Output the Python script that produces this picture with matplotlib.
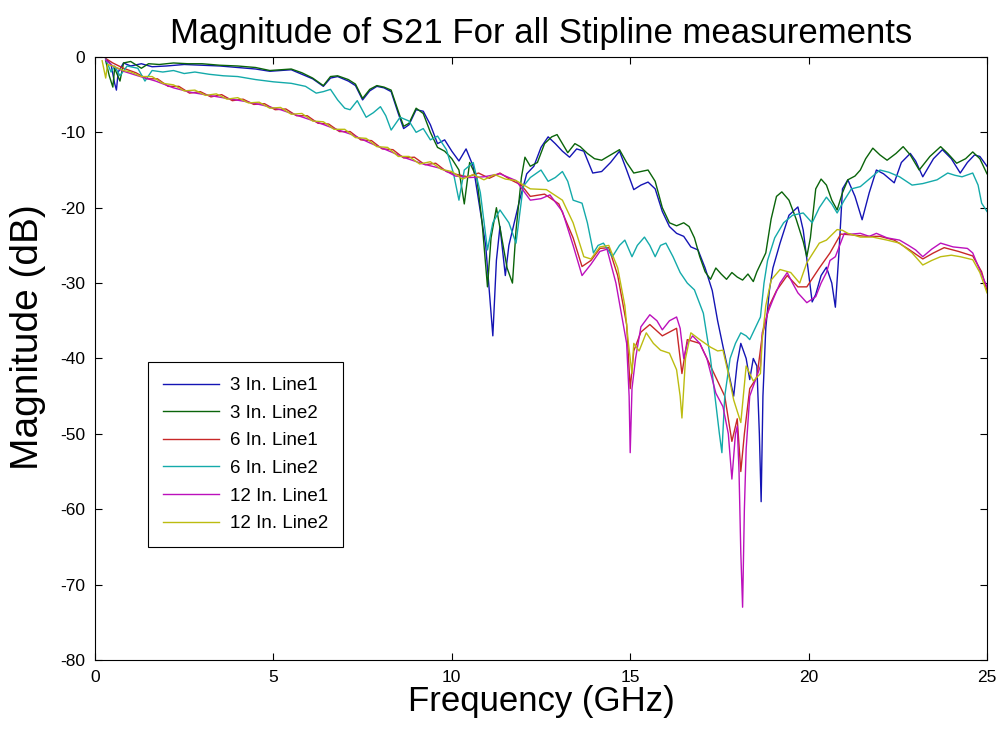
import matplotlib
matplotlib.use("Agg")
import matplotlib.pyplot as plt

plt.rcParams['font.family'] = ['Liberation Sans', 'DejaVu Sans']
plt.rcParams['axes.unicode_minus'] = False

# S21 magnitude traces, (frequency GHz, dB) pairs per measurement
freq_3in_l1 = [0.3, 0.45, 0.55, 0.6, 0.65, 0.8, 1.0, 1.3, 1.6, 2.0, 2.5, 3.0, 3.5, 4.0, 4.5, 4.9,
               5.2, 5.5, 5.8, 6.1, 6.4, 6.6, 6.8, 7.1, 7.3, 7.5, 7.7, 7.9, 8.1, 8.3, 8.5, 8.65,
               8.8, 9.0, 9.2, 9.4, 9.6, 9.8, 10.0, 10.2, 10.4, 10.6, 10.8, 10.95, 11.05, 11.15,
               11.25, 11.35, 11.5, 11.6, 11.75, 11.9, 12.1, 12.3, 12.5, 12.7, 12.9, 13.1, 13.3,
               13.5, 13.7, 13.95, 14.2, 14.45, 14.7, 14.9, 15.1, 15.3, 15.5, 15.7, 15.9, 16.1,
               16.3, 16.5, 16.7, 16.9, 17.1, 17.3, 17.45, 17.6, 17.8, 17.9, 18.0, 18.1, 18.25,
               18.35, 18.45, 18.55, 18.62, 18.67, 18.72, 18.8, 18.9, 19.0, 19.2, 19.45, 19.7,
               19.85, 20.0, 20.1, 20.2, 20.35, 20.5, 20.65, 20.75, 20.85, 20.95, 21.1, 21.3,
               21.5, 21.7, 21.9, 22.1, 22.4, 22.6, 22.85, 23.0, 23.2, 23.5, 23.75, 24.0, 24.25,
               24.45, 24.65, 24.8, 25.0]
mag_3in_l1 = [-0.2, -1.0, -3.5, -4.4, -2.0, -0.8, -1.2, -0.9, -1.3, -1.2, -1.0, -1.1, -1.2, -1.4,
              -1.6, -1.9, -1.8, -1.7, -2.3, -2.9, -3.9, -2.8, -2.6, -3.2, -3.8, -5.7, -4.5, -3.9,
              -4.1, -4.6, -7.5, -9.5, -9.0, -7.0, -7.2, -9.0, -11.5, -11.0, -12.5, -13.8, -12.2,
              -14.5, -20.5, -25, -31, -37, -27, -22.5, -29, -25, -22, -19, -15.5, -14.5, -12,
              -10.6, -11.5, -12.5, -13.3, -12.2, -12.5, -15.4, -15.2, -14, -12.5, -15, -17.6,
              -17, -16.6, -17.5, -20.5, -22.5, -23.4, -23.8, -25.2, -25.6, -28, -31, -35, -38.4,
              -42.8, -45, -40.6, -38, -40, -42.8, -40, -41, -50, -59, -45, -36, -31, -28, -24.7,
              -21, -19.9, -23, -28.7, -32.5, -31.5, -29, -27.9, -30, -33.2, -26, -17.5, -16.3,
              -18.5, -21.6, -18, -15, -15.5, -16.7, -14, -12.8, -13.8, -15.9, -13.5, -12.3, -13.5,
              -15.4, -14, -13, -13.2, -14.5]

freq_3in_l2 = [0.3, 0.4, 0.5, 0.55, 0.7, 0.8, 1.0, 1.3, 1.5, 1.8, 2.2, 2.6, 3.0, 3.5, 4.0, 4.5,
               4.9, 5.2, 5.5, 5.8, 6.1, 6.4, 6.6, 6.8, 7.1, 7.3, 7.5, 7.7, 7.9, 8.1, 8.3, 8.5,
               8.65, 8.8, 9.0, 9.2, 9.4, 9.6, 9.8, 10.0, 10.2, 10.35, 10.5, 10.7, 10.85, 11.0,
               11.1, 11.25, 11.4, 11.55, 11.7, 11.8, 11.95, 12.05, 12.2, 12.4, 12.6, 12.8, 12.95,
               13.1, 13.25, 13.45, 13.6, 13.8, 14.0, 14.2, 14.45, 14.7, 14.9, 15.1, 15.3, 15.5,
               15.7, 15.9, 16.1, 16.3, 16.5, 16.65, 16.8, 16.95, 17.1, 17.25, 17.4, 17.55, 17.7,
               17.85, 18.0, 18.15, 18.3, 18.45, 18.55, 18.65, 18.8, 18.95, 19.1, 19.25, 19.45,
               19.65, 19.85, 19.95, 20.05, 20.2, 20.35, 20.5, 20.65, 20.8, 20.95, 21.1, 21.3,
               21.45, 21.6, 21.8, 22.0, 22.2, 22.45, 22.65, 22.85, 23.1, 23.4, 23.7, 23.9, 24.15,
               24.4, 24.6, 24.8, 25.0]
mag_3in_l2 = [-0.5, -2.5, -4.0, -1.5, -3.2, -0.8, -0.6, -1.5, -0.9, -1.0, -0.8, -0.9, -0.9, -1.1,
              -1.2, -1.4, -1.8, -1.7, -1.6, -2.1, -2.8, -3.8, -2.6, -2.5, -3.0, -3.6, -5.5, -4.3,
              -3.8, -4.0, -4.4, -7.2, -9.2, -8.8, -6.8, -7.5, -10, -12, -12.5, -13.5, -15, -19.5,
              -14, -16, -22, -30.5, -24, -20, -24, -28, -30, -23, -16, -13.3, -14.5, -14, -11.5,
              -10.6, -10.3, -11.5, -12.7, -11.5, -11.9, -12.8, -13.5, -13.7, -13, -12.3, -14,
              -15.4, -15.2, -15, -16.5, -20, -22, -22.4, -22, -22.5, -24, -26.5, -28.5, -29.5,
              -28, -28.8, -29.5, -28.6, -29.2, -29.6, -28.8, -29.8, -28.5, -27.5, -26, -21.5,
              -18.5, -17.9, -19, -21.5, -24.5, -26.5, -24, -17.5, -16.2, -17, -19, -20.3, -18,
              -16.3, -15.8, -15, -13.5, -12.1, -13, -13.7, -12.8, -11.9, -13, -15, -13.2, -11.9,
              -12.8, -14.1, -13.5, -12.6, -13.5, -15.5]

freq_6in_l1 = [0.3, 0.5, 0.8, 1.15, 1.45, 1.75, 2.05, 2.35, 2.65, 2.95, 3.25, 3.55, 3.85, 4.15,
               4.45, 4.75, 5.05, 5.35, 5.65, 5.95, 6.25, 6.55, 6.85, 7.15, 7.45, 7.75, 8.05, 8.35,
               8.65, 8.95, 9.25, 9.55, 9.85, 10.15, 10.45, 10.75, 11.05, 11.35, 11.65, 11.95,
               12.2, 12.6, 13.0, 13.4, 13.65, 13.9, 14.15, 14.4, 14.65, 14.9, 15.0, 15.1, 15.3,
               15.55, 15.9, 16.3, 16.45, 16.6, 16.95, 17.2, 17.45, 17.65, 17.85, 18.0, 18.1,
               18.2, 18.35, 18.55, 18.7, 18.9, 19.1, 19.4, 19.7, 19.95, 20.3, 20.6, 20.9, 21.2,
               21.6, 22.0, 22.4, 22.8, 23.2, 23.5, 23.8, 24.2, 24.6, 24.85, 25.0]
mag_6in_l1 = [-0.2, -0.8, -1.5, -2.1, -2.9, -2.9, -3.9, -3.9, -4.8, -4.6, -5.3, -5.0, -5.8, -5.6,
              -6.3, -6.2, -7.0, -6.9, -7.8, -7.8, -8.8, -8.9, -9.9, -9.9, -11.0, -11.1, -12.2,
              -12.3, -13.4, -13.3, -14.3, -14.1, -15.2, -15.6, -15.9, -15.4, -16.1, -15.4, -16.3,
              -17.0, -18.5, -18.2, -19.5, -24, -27.8, -27, -25.4, -25.3, -29, -35.5, -44, -39,
              -36.5, -35.5, -37, -36, -42, -37.5, -38, -40.5, -43, -45, -51, -48, -55, -50, -44,
              -42.5, -37, -33, -31, -29, -30.5, -30.5, -28, -26, -23.5, -23.6, -23.8, -23.8,
              -24.3, -25.5, -26.8, -26, -25.3, -25.8, -26.4, -28.5, -31]

freq_6in_l2 = [0.3, 0.45, 0.55, 0.7, 0.9, 1.2, 1.4, 1.6, 1.9, 2.2, 2.5, 2.8, 3.2, 3.6, 4.0, 4.5,
               5.0, 5.5, 5.9, 6.2, 6.4, 6.6, 6.8, 7.0, 7.15, 7.35, 7.6, 7.8, 8.0, 8.15, 8.3,
               8.55, 8.8, 9.0, 9.2, 9.4, 9.6, 9.85, 10.05, 10.2, 10.35, 10.6, 10.8, 11.0, 11.15,
               11.35, 11.6, 11.8, 12.0, 12.2, 12.5, 12.7, 12.9, 13.1, 13.25, 13.4, 13.65, 13.8,
               13.97, 14.1, 14.25, 14.5, 14.7, 14.85, 15.05, 15.2, 15.4, 15.55, 15.7, 15.85, 16.0,
               16.2, 16.4, 16.6, 16.8, 17.05, 17.25, 17.4, 17.5, 17.57, 17.65, 17.8, 17.95, 18.1,
               18.25, 18.35, 18.5, 18.65, 18.75, 18.85, 19.05, 19.3, 19.55, 19.85, 20.1, 20.3,
               20.5, 20.65, 20.8, 21.0, 21.2, 21.45, 21.75, 22.0, 22.25, 22.55, 22.9, 23.2, 23.6,
               23.9, 24.1, 24.3, 24.6, 24.75, 24.85, 25.0]
mag_6in_l2 = [-0.3, -2.0, -1.2, -2.5, -1.2, -1.5, -3.2, -1.8, -2.0, -1.8, -2.2, -2.0, -2.3, -2.5,
              -2.6, -3.0, -3.3, -3.5, -3.9, -4.8, -4.6, -4.3, -5.7, -6.8, -7.0, -5.8, -8, -7.4,
              -6.6, -7.8, -9.7, -8.0, -8.5, -10, -9.5, -11, -10.5, -12.3, -15.5, -19, -15, -14,
              -18, -25.6, -22, -20.3, -22, -24.7, -17.2, -16, -15, -16.5, -16, -15.2, -16.5, -19,
              -19.4, -22, -26, -25, -24.7, -26.5, -25, -24.3, -26.5, -25, -23.9, -25, -26.5, -25,
              -24.7, -26.5, -28.6, -30, -30.9, -34, -40, -46, -50, -52.5, -45, -40, -38, -36.6,
              -37, -37.5, -36, -34.5, -30, -27, -24, -22, -21, -20.7, -22, -20, -18.6, -19.5,
              -20.7, -19, -17.5, -17.2, -16, -15, -15.3, -15.9, -17, -16.8, -16.3, -15.4, -15.7,
              -15.9, -15.4, -17, -19.4, -20.5]

freq_12in_l1 = [0.3, 0.5, 0.8, 1.2, 1.7, 2.2, 2.7, 3.2, 3.7, 4.2, 4.7, 5.2, 5.7, 6.2, 6.7, 7.2,
                7.7, 8.2, 8.7, 9.2, 9.7, 10.1, 10.5, 10.9, 11.35, 11.8, 12.2, 12.5, 12.75, 13.1,
                13.4, 13.65, 13.9, 14.15, 14.35, 14.6, 14.75, 14.9, 14.97, 15.0, 15.05, 15.15,
                15.3, 15.55, 15.75, 15.9, 16.1, 16.3, 16.4, 16.5, 16.6, 16.75, 16.95, 17.15, 17.4,
                17.6, 17.75, 17.85, 17.95, 18.0, 18.05, 18.1, 18.15, 18.2, 18.25, 18.35, 18.5,
                18.65, 18.7, 18.85, 19.0, 19.2, 19.4, 19.55, 19.7, 19.95, 20.2, 20.35, 20.5, 20.6,
                20.75, 21.0, 21.2, 21.45, 21.7, 21.9, 22.2, 22.55, 22.8, 23.0, 23.2, 23.45, 23.7,
                24.05, 24.45, 24.6, 24.8, 25.0]
mag_12in_l1 = [-0.4, -1.2, -1.9, -2.5, -3.2, -4.1, -4.7, -5.1, -5.5, -5.9, -6.4, -7.0, -7.8, -8.6,
               -9.5, -10.3, -11.4, -12.4, -13.4, -14.2, -14.8, -15.8, -16.0, -15.9, -15.5, -16.4,
               -19, -18.8, -18.3, -20.5, -25, -29, -27.5, -25.8, -25.5, -30, -34, -38, -45, -52.5,
               -44, -40, -35.8, -34.2, -35, -36.2, -35, -34.5, -36, -40, -38, -37, -38, -40, -44.6,
               -46.4, -50, -56, -50, -49, -55, -65.8, -73, -60, -52, -45, -43, -41, -36.6, -34,
               -32.2, -30, -28.6, -30, -31.3, -32.6, -31.8, -30, -28.6, -27, -26.5, -23.4, -23.5,
               -23.4, -23.8, -23.4, -24, -24.3, -25, -25.6, -26.5, -25.5, -24.7, -25.2, -25.4, -26,
               -28.3, -30.5]

freq_12in_l2 = [0.2, 0.3, 0.35, 0.5, 0.8, 1.0, 1.3, 1.6, 1.9, 2.2, 2.5, 2.8, 3.1, 3.4, 3.7, 4.0,
                4.3, 4.6, 4.9, 5.2, 5.5, 5.8, 6.1, 6.4, 6.7, 7.0, 7.3, 7.6, 7.9, 8.2, 8.5, 8.8,
                9.1, 9.4, 9.7, 10.0, 10.3, 10.6, 10.9, 11.2, 11.5, 11.8, 12.2, 12.65, 13.1, 13.4,
                13.7, 13.9, 14.15, 14.4, 14.65, 14.85, 14.95, 15.05, 15.1, 15.25, 15.45, 15.65,
                15.85, 16.1, 16.3, 16.4, 16.45, 16.55, 16.7, 16.95, 17.1, 17.25, 17.45, 17.6,
                17.75, 17.9, 18.0, 18.1, 18.25, 18.45, 18.65, 18.7, 18.8, 18.95, 19.2, 19.5,
                19.75, 19.95, 20.3, 20.5, 20.8, 20.95, 21.1, 21.45, 21.8, 22.2, 22.55, 22.9, 23.2,
                23.45, 23.7, 24.0, 24.25, 24.6, 24.8, 25.0]
mag_12in_l2 = [-0.5, -2.8, -1.0, -1.2, -1.8, -2.0, -2.6, -2.6, -3.5, -3.7, -4.5, -4.4, -5.1, -4.9,
               -5.6, -5.4, -6.1, -6.0, -6.8, -6.7, -7.6, -7.5, -8.5, -8.6, -9.6, -9.6, -10.7,
               -10.8, -11.9, -12.0, -13.2, -13.2, -14.2, -13.9, -14.9, -15.2, -16.2, -15.6, -16.3,
               -15.6, -16.2, -16.4, -17.5, -17.6, -19, -22, -26.5, -26.8, -25.2, -25, -28, -33,
               -38, -42, -38, -39, -36.6, -38, -38.9, -39.3, -41.5, -45, -47.9, -40, -36.6, -37.5,
               -38, -38.5, -39, -38.9, -42, -45.5, -47, -48.5, -41, -43, -42, -37.5, -33, -29.6,
               -28.2, -28.6, -30, -27.3, -24.7, -24.3, -22.9, -23, -23.4, -23.9, -23.9, -24.3,
               -24.7, -26, -27.6, -27, -26.5, -26.3, -26.5, -26.9, -28.6, -31.3]

series_labels = ['3 In. Line1', '3 In. Line2', '6 In. Line1', '6 In. Line2', '12 In. Line1', '12 In. Line2']
series_colors = ['#1414b4', '#0a640a', '#c82828', '#14aaaa', '#bc10bc', '#bcbc10']

traces = [(freq_3in_l1, mag_3in_l1), (freq_3in_l2, mag_3in_l2),
          (freq_6in_l1, mag_6in_l1), (freq_6in_l2, mag_6in_l2),
          (freq_12in_l1, mag_12in_l1), (freq_12in_l2, mag_12in_l2)]

fig = plt.figure(figsize=(10, 7.32), dpi=100)
ax = fig.add_axes([0.095, 0.0984, 0.892, 0.8238])

for (f, m), lbl, col in zip(traces, series_labels, series_colors):
    ax.plot(f, m, color=col, lw=1.0, label=lbl)

ax.set_xlim(0, 25)
ax.set_ylim(-80, 0)
ax.set_xticks([0, 5, 10, 15, 20, 25])
ax.set_yticks(range(-80, 1, 10))
ax.tick_params(direction='in', top=True, right=True, length=5, labelsize=12.5, pad=7)
for s in ax.spines.values():
    s.set_linewidth(0.8)

ax.set_title('Magnitude of S21 For all Stipline measurements', fontsize=25, pad=10)
ax.set_xlabel('Frequency (GHz)', fontsize=25, labelpad=0)
ax.set_ylabel('Magnitude (dB)', fontsize=28)
ax.yaxis.set_label_coords(-0.055, 0.535)

leg = ax.legend(loc='lower left', bbox_to_anchor=(0.059, 0.187), fontsize=13.5,
                handlelength=3.0, labelspacing=0.56, fancybox=False, framealpha=1,
                edgecolor='black', borderaxespad=0, handletextpad=0.6, borderpad=0.8)
leg.get_frame().set_linewidth(0.8)

fig.savefig('out.png', dpi=100)
